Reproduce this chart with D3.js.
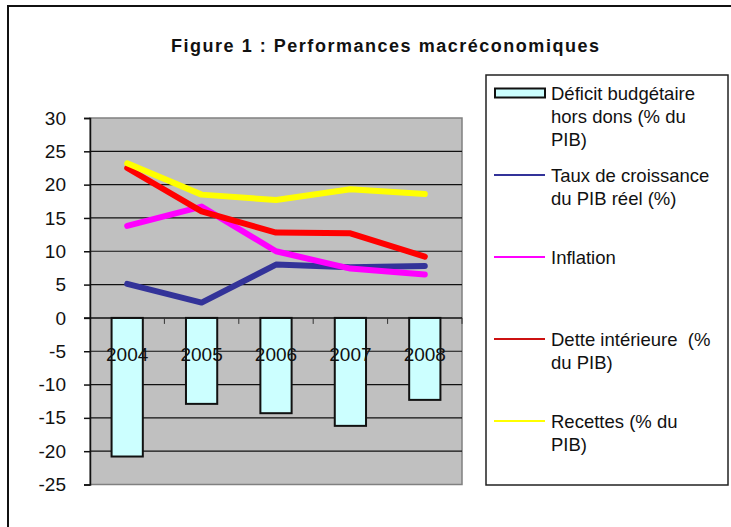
<!DOCTYPE html>
<html>
<head>
<meta charset="utf-8">
<script src="https://cdn.jsdelivr.net/npm/d3@7"></script>
<style>
  body { margin: 0; background: #fff; }
  text { font-family: "Liberation Sans", Arial, sans-serif; fill: #111; }
</style>
</head>
<body>
<div class="graph"></div>
<script>
// data
var years = ["2004", "2005", "2006", "2007", "2008"];
var deficit = [-20.8, -12.9, -14.3, -16.2, -12.3];
var croissance = [5.1, 2.3, 8.0, 7.6, 7.8];
var inflation = [13.8, 16.7, 10.0, 7.4, 6.5];
var dette = [22.5, 16.0, 12.8, 12.7, 9.2];
var recettes = [23.2, 18.5, 17.7, 19.3, 18.6];
var yTicks = [-25, -20, -15, -10, -5, 0, 5, 10, 15, 20, 25, 30];

var seriesNames = ["Taux de croissance du PIB réel (%)", "Inflation", "Dette intérieure (% du PIB)", "Recettes (% du PIB)"];
var seriesColors = ["#333399", "#ff00ff", "#ff0000", "#ffff00"];
var legendLines = [
  ["Déficit budgétaire", "hors dons (% du", "PIB)"],
  ["Taux de croissance", "du PIB réel (%)"],
  ["Inflation"],
  ["Dette intérieure  (%", "du PIB)"],
  ["Recettes (% du", "PIB)"]
];

var width = 731, height = 527;
var plot = {left: 90, right: 462, top: 118, bottom: 484.5};

var svg = d3.select(".graph").append("svg")
    .attr("width", width)
    .attr("height", height);

// outer frame (right and bottom edges run off the picture)
svg.append("rect")
    .attr("x", 8).attr("y", 6)
    .attr("width", 760).attr("height", 560)
    .attr("fill", "#fff")
    .attr("stroke", "#111")
    .attr("stroke-width", 2);

svg.append("text")
    .attr("x", 171).attr("y", 52)
    .attr("textLength", 428)
    .attr("lengthAdjust", "spacing")
    .style("font-size", "18px")
    .style("font-weight", "bold")
    .text("Figure 1 : Performances macréconomiques");

var x = d3.scaleBand()
    .domain(years)
    .range([plot.left, plot.right])
    .paddingInner(0.58)
    .paddingOuter(0.29);

var y = d3.scaleLinear()
    .domain([-25, 30])
    .range([plot.bottom, plot.top]);

function cx(d) { return x(d) + x.bandwidth() / 2; }

var g = svg.append("g");

// plot area
g.append("rect")
    .attr("x", plot.left).attr("y", plot.top)
    .attr("width", plot.right - plot.left)
    .attr("height", plot.bottom - plot.top)
    .attr("fill", "#c0c0c0")
    .attr("stroke", "#808080")
    .attr("stroke-width", 1.5);

// gridlines
g.selectAll("line.grid")
    .data(yTicks.filter(function(t) { return t > -25 && t < 30 && t != 0; }))
  .enter().append("line")
    .attr("class", "grid")
    .attr("x1", plot.left).attr("x2", plot.right)
    .attr("y1", function(d) { return y(d); })
    .attr("y2", function(d) { return y(d); })
    .attr("stroke", "#111")
    .attr("stroke-width", 1.2);

// y axis (plain hyphen for negatives, like the original)
var yAxis = d3.axisLeft(y)
    .tickValues(yTicks)
    .tickFormat(function(d) { return String(d); })
    .tickSize(6)
    .tickPadding(18);
var ya = g.append("g")
    .attr("transform", "translate(" + plot.left + ",0)")
    .call(yAxis);
ya.select(".domain").attr("stroke", "#111").attr("stroke-width", 1.5);
ya.selectAll(".tick line").attr("stroke", "#111").attr("stroke-width", 1.5);
ya.selectAll(".tick text")
    .attr("fill", "#222")
    .style("font-size", "19px")
    .style("font-family", "'Liberation Sans', Arial, sans-serif");

// bars
g.selectAll("rect.bar")
    .data(deficit)
  .enter().append("rect")
    .attr("class", "bar")
    .attr("x", function(d, i) { return x(years[i]); })
    .attr("y", function(d) { return y(Math.max(0, d)); })
    .attr("width", x.bandwidth())
    .attr("height", function(d) { return Math.abs(y(d) - y(0)); })
    .attr("fill", "#ccffff")
    .attr("stroke", "#111")
    .attr("stroke-width", 2);

// zero axis with ticks between categories
g.append("line")
    .attr("x1", plot.left - 6).attr("x2", plot.right)
    .attr("y1", y(0)).attr("y2", y(0))
    .attr("stroke", "#111")
    .attr("stroke-width", 1.5);

var bounds = years.map(function(d) { return x(d) - x.step() * x.paddingInner() / 2 + x.step(); });
g.selectAll("line.xtick")
    .data(bounds)
  .enter().append("line")
    .attr("class", "xtick")
    .attr("x1", function(d) { return d; })
    .attr("x2", function(d) { return d; })
    .attr("y1", y(0)).attr("y2", y(0) + 6)
    .attr("stroke", "#333")
    .attr("stroke-width", 1);

g.selectAll("text.year")
    .data(years)
  .enter().append("text")
    .attr("class", "year")
    .attr("x", cx)
    .attr("y", y(0) + 43)
    .attr("text-anchor", "middle")
    .style("font-size", "19px")
    .attr("fill", "#222")
    .text(function(d) { return d; });

// lines
var allSeries = [croissance, inflation, dette, recettes];
var line = d3.line()
    .x(function(d, i) { return cx(years[i]); })
    .y(function(d) { return y(d); });

g.selectAll("path.serie")
    .data(allSeries)
  .enter().append("path")
    .attr("class", "serie")
    .attr("d", line)
    .attr("fill", "none")
    .attr("stroke", function(d, i) { return seriesColors[i]; })
    .attr("stroke-width", 6)
    .attr("stroke-linejoin", "round")
    .attr("stroke-linecap", "round");

// legend
var lg = svg.append("g");
lg.append("rect")
    .attr("x", 486).attr("y", 75)
    .attr("width", 242).attr("height", 410)
    .attr("fill", "#fff")
    .attr("stroke", "#222")
    .attr("stroke-width", 1.5);

var legendY = [93, 175, 257, 339, 421];
lg.append("rect")
    .attr("x", 495).attr("y", legendY[0] - 4.5)
    .attr("width", 50).attr("height", 9)
    .attr("fill", "#ccffff")
    .attr("stroke", "#111")
    .attr("stroke-width", 2);

lg.selectAll("line.key")
    .data(seriesColors)
  .enter().append("line")
    .attr("class", "key")
    .attr("x1", 494).attr("x2", 545)
    .attr("y1", function(d, i) { return legendY[i + 1]; })
    .attr("y2", function(d, i) { return legendY[i + 1]; })
    .attr("stroke", function(d, i) { return i == 2 ? "#cc1111" : d; })
    .attr("stroke-width", 2);

legendLines.forEach(function(lines, k) {
  var t = lg.append("text")
      .attr("x", 551)
      .attr("y", legendY[k] + 6.5)
      .style("font-size", "18.5px")
      .attr("fill", "#222");
  lines.forEach(function(s, j) {
    t.append("tspan")
      .attr("x", 551)
      .attr("dy", j == 0 ? 0 : 23.3)
      .style("white-space", "pre")
      .text(s);
  });
});
</script>
</body>
</html>
